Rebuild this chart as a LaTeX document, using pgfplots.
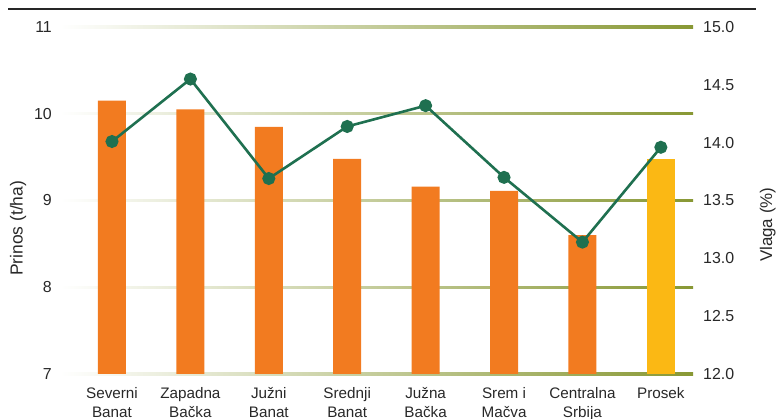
\documentclass[border=0pt]{standalone}
\usepackage{fontspec}
\setmainfont{Liberation Sans}
\usepackage{pgfplots}
\pgfplotsset{compat=1.18}
\definecolor{barorange}{RGB}{242,123,32}
\definecolor{baryellow}{RGB}{251,184,20}
\definecolor{linegreen}{RGB}{31,112,80}
\definecolor{gridolive}{RGB}{136,152,52}
\definecolor{txt}{RGB}{40,40,40}
\pgfplotsset{
  base/.style={
    at={(60bp,45bp)}, anchor=south west,
    scale only axis, width=633bp, height=347bp,
    xmin=-0.663, xmax=7.41,
    axis line style={draw=none}, tick style={draw=none},
    /pgf/number format/assume math mode=true,
  }
}
\begin{document}
\begin{tikzpicture}
\path[use as bounding box] (0,0) rectangle (779bp,419bp);
\clip (0,0) rectangle (779bp,419bp);
\draw[line width=2.2bp, color=black!85] (8bp,410bp) -- (756bp,410bp);
% axis A: grid, left ticks, category labels
\begin{axis}[base, ymin=7, ymax=11, clip=false,
  ytick={7,8,9,10,11},
  xtick={0,1,2,3,4,5,6,7},
  xticklabels={Severni\\Banat, Zapadna\\Bačka, Južni\\Banat, Srednji\\Banat, Južna\\Bačka, Srem i\\Mačva, Centralna\\Srbija, Prosek},
  xticklabel style={align=center, anchor=north, inner sep=0pt, yshift=-13bp,
    font=\fontsize{15.3}{19}\selectfont, text=txt},
  yticklabel style={anchor=east, inner sep=0pt, xshift=-8bp,
    font=\fontsize{16}{18}\selectfont, text=txt},
  ylabel={Prinos (t/ha)},
  ylabel style={at={(axis description cs:-0.066,0.42)}, anchor=center,
    font=\fontsize{17.5}{19}\selectfont, text=txt},
]
\pgfplotsinvokeforeach{7,8,9,10,11}{
  \fill[left color=white, right color=gridolive]
    ([yshift=-1.2bp]axis cs:-0.663,#1) rectangle ([yshift=1.2bp]axis cs:7.41,#1);
}
\end{axis}
% axis B: bars
\begin{axis}[base, ymin=7, ymax=11, hide axis]
\addplot[ybar, bar width=28bp, bar shift=0pt, fill=barorange, draw=none]
  coordinates {(0,10.15) (1,10.05) (2,9.85) (3,9.48) (4,9.16) (5,9.11) (6,8.60)};
\addplot[ybar, bar width=28bp, bar shift=0pt, fill=baryellow, draw=none]
  coordinates {(7,9.48)};
\end{axis}
% axis C: line, right axis
\begin{axis}[base, ymin=12, ymax=15, clip=false,
  xtick=\empty,
  ytick={12,12.5,13,13.5,14,14.5,15},
  yticklabel pos=right,
  yticklabel style={anchor=west, inner sep=0pt, xshift=10bp,
    font=\fontsize{16}{18}\selectfont, text=txt},
  /pgf/number format/fixed, /pgf/number format/fixed zerofill,
  /pgf/number format/precision=1,
  ylabel={Vlaga (\%)},
  ylabel style={at={(axis description cs:1.118,0.43)}, anchor=center,
    font=\fontsize{17}{19}\selectfont, text=txt},
]
\addplot[color=linegreen, line width=2.6bp, mark=*, mark size=5.2bp,
  mark options={fill=linegreen, draw=none}]
  coordinates {(0,14.01) (1,14.55) (2,13.69) (3,14.14) (4,14.32) (5,13.70) (6,13.14) (7,13.96)};
\end{axis}
\end{tikzpicture}
\end{document}
